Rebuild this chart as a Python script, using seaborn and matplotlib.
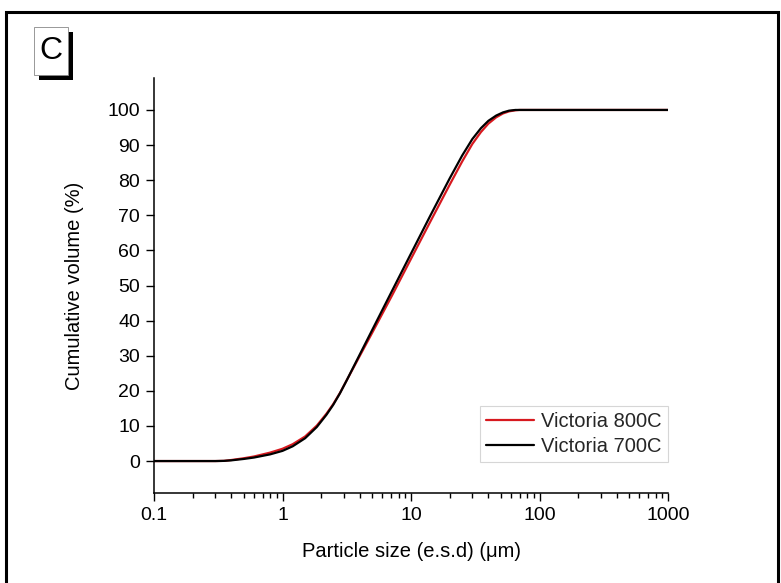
import numpy as np
import pandas as pd
import matplotlib
matplotlib.use("Agg")
import matplotlib.pyplot as plt
from matplotlib.patches import Rectangle
import matplotlib.ticker as mticker
import seaborn as sns

# ---- data ----
sizes_800 = [0.1, 0.2, 0.3, 0.35, 0.4, 0.5, 0.6, 0.8, 1.0, 1.2, 1.5, 1.85, 2.2, 2.48,
             2.8, 3.16, 4.0, 5.0, 7.08, 10.0, 14.0, 20.0, 25.0, 30.0, 35.0, 40.0,
             46.0, 52.0, 58.0, 65.0, 70.0, 100.0, 1000.0]
victoria_800 = [0, 0, 0, 0.05, 0.3, 0.8, 1.3, 2.4, 3.5, 4.8, 7.0, 10.1, 13.5, 16.2,
                19.4, 23.0, 30.0, 36.6, 47.0, 57.6, 67.9, 78.7, 85.3, 90.3, 93.7, 96.1,
                97.9, 99.0, 99.6, 99.9, 100, 100, 100]
sizes_700 = [0.1, 0.2, 0.3, 0.35, 0.4, 0.5, 0.6, 0.8, 1.0, 1.2, 1.5, 1.85, 2.2, 2.48,
             2.8, 3.16, 4.0, 5.0, 7.08, 10.0, 14.0, 20.0, 25.0, 30.0, 35.0, 40.0,
             46.0, 52.0, 58.0, 65.0, 100.0, 1000.0]
victoria_700 = [0, 0, 0, 0.05, 0.2, 0.6, 1.0, 1.9, 2.9, 4.2, 6.5, 9.7, 13.2, 16.0,
                19.3, 23.0, 30.4, 37.4, 48.3, 59.1, 69.6, 80.5, 87.0, 91.7, 94.8, 96.9,
                98.4, 99.3, 99.8, 100, 100, 100]
series_names = ["Victoria 800C", "Victoria 700C"]
x_ticks = [0.1, 1, 10, 100, 1000]
x_ticklabels = ["0.1", "1", "10", "100", "1000"]
y_ticks = list(range(0, 101, 10))

df = pd.concat([
    pd.DataFrame({"size": sizes_800, "vol": victoria_800, "sample": series_names[0]}),
    pd.DataFrame({"size": sizes_700, "vol": victoria_700, "sample": series_names[1]}),
])

sns.set_theme(style="ticks")
plt.rcParams["font.family"] = ["Liberation Sans", "DejaVu Sans"]

fig = plt.figure(figsize=(7.81, 5.83), dpi=100)
ax = fig.add_axes([154/781, 1 - 493/583, (668 - 154)/781, (493 - 78)/583])

sns.lineplot(data=df, x="size", y="vol", hue="sample", hue_order=series_names,
             palette={"Victoria 800C": "#d7191f", "Victoria 700C": "#000000"},
             linewidth=1.6, ax=ax, sort=False, estimator=None)

ax.set_xscale("log")
ax.set_xlim(0.1, 1000)
ax.set_ylim(-9.1, 109.1)
ax.set_xticks(x_ticks)
ax.set_xticklabels(x_ticklabels)
ax.xaxis.set_minor_locator(mticker.LogLocator(base=10, subs=np.arange(2, 10)))
ax.xaxis.set_minor_formatter(mticker.NullFormatter())
ax.set_yticks(y_ticks)

ax.tick_params(axis="both", which="major", direction="out", length=6, width=1.0,
               labelsize=14, color="black", labelcolor="black", pad=4)
ax.tick_params(axis="x", which="minor", direction="out", length=3.5, width=1.0, color="black")

for s in ["top", "right"]:
    ax.spines[s].set_visible(False)
for s in ["left", "bottom"]:
    ax.spines[s].set_linewidth(1.1)
    ax.spines[s].set_color("black")

ax.set_xlabel("Particle size (e.s.d) (\u03bcm)", fontsize=14.5, color="black", labelpad=13)
ax.set_ylabel("Cumulative volume (%)", fontsize=14.5, color="black", labelpad=17)

leg = ax.legend(loc="lower right", bbox_to_anchor=(1.0, 0.075), frameon=True,
                fontsize=14.5, handlelength=2.4, handletextpad=0.35, borderpad=0.3,
                labelspacing=0.3, fancybox=False, borderaxespad=0.0)
leg.get_frame().set_edgecolor("#cccccc")
leg.get_frame().set_linewidth(0.8)
for line in leg.get_lines():
    line.set_linewidth(1.6)

# outer frame
fig.patches.append(Rectangle((6/781, -0.05), (778 - 6)/781, 1.05 - 12/583,
                             transform=fig.transFigure, fill=False,
                             edgecolor="black", linewidth=2.2, zorder=0))

# panel label "C" with shadow
fig.patches.append(Rectangle((39/781, 1 - 80/583), 34/781, 48/583,
                             transform=fig.transFigure, facecolor="black",
                             edgecolor="none", zorder=1))
fig.patches.append(Rectangle((34/781, 1 - 75/583), 34/781, 48/583,
                             transform=fig.transFigure, facecolor="white",
                             edgecolor="#888888", linewidth=0.6, zorder=2))
fig.text(51/781, 1 - 51/583, "C", fontsize=23, ha="center", va="center",
         color="black", zorder=3)

fig.savefig("out.png", dpi=100)
